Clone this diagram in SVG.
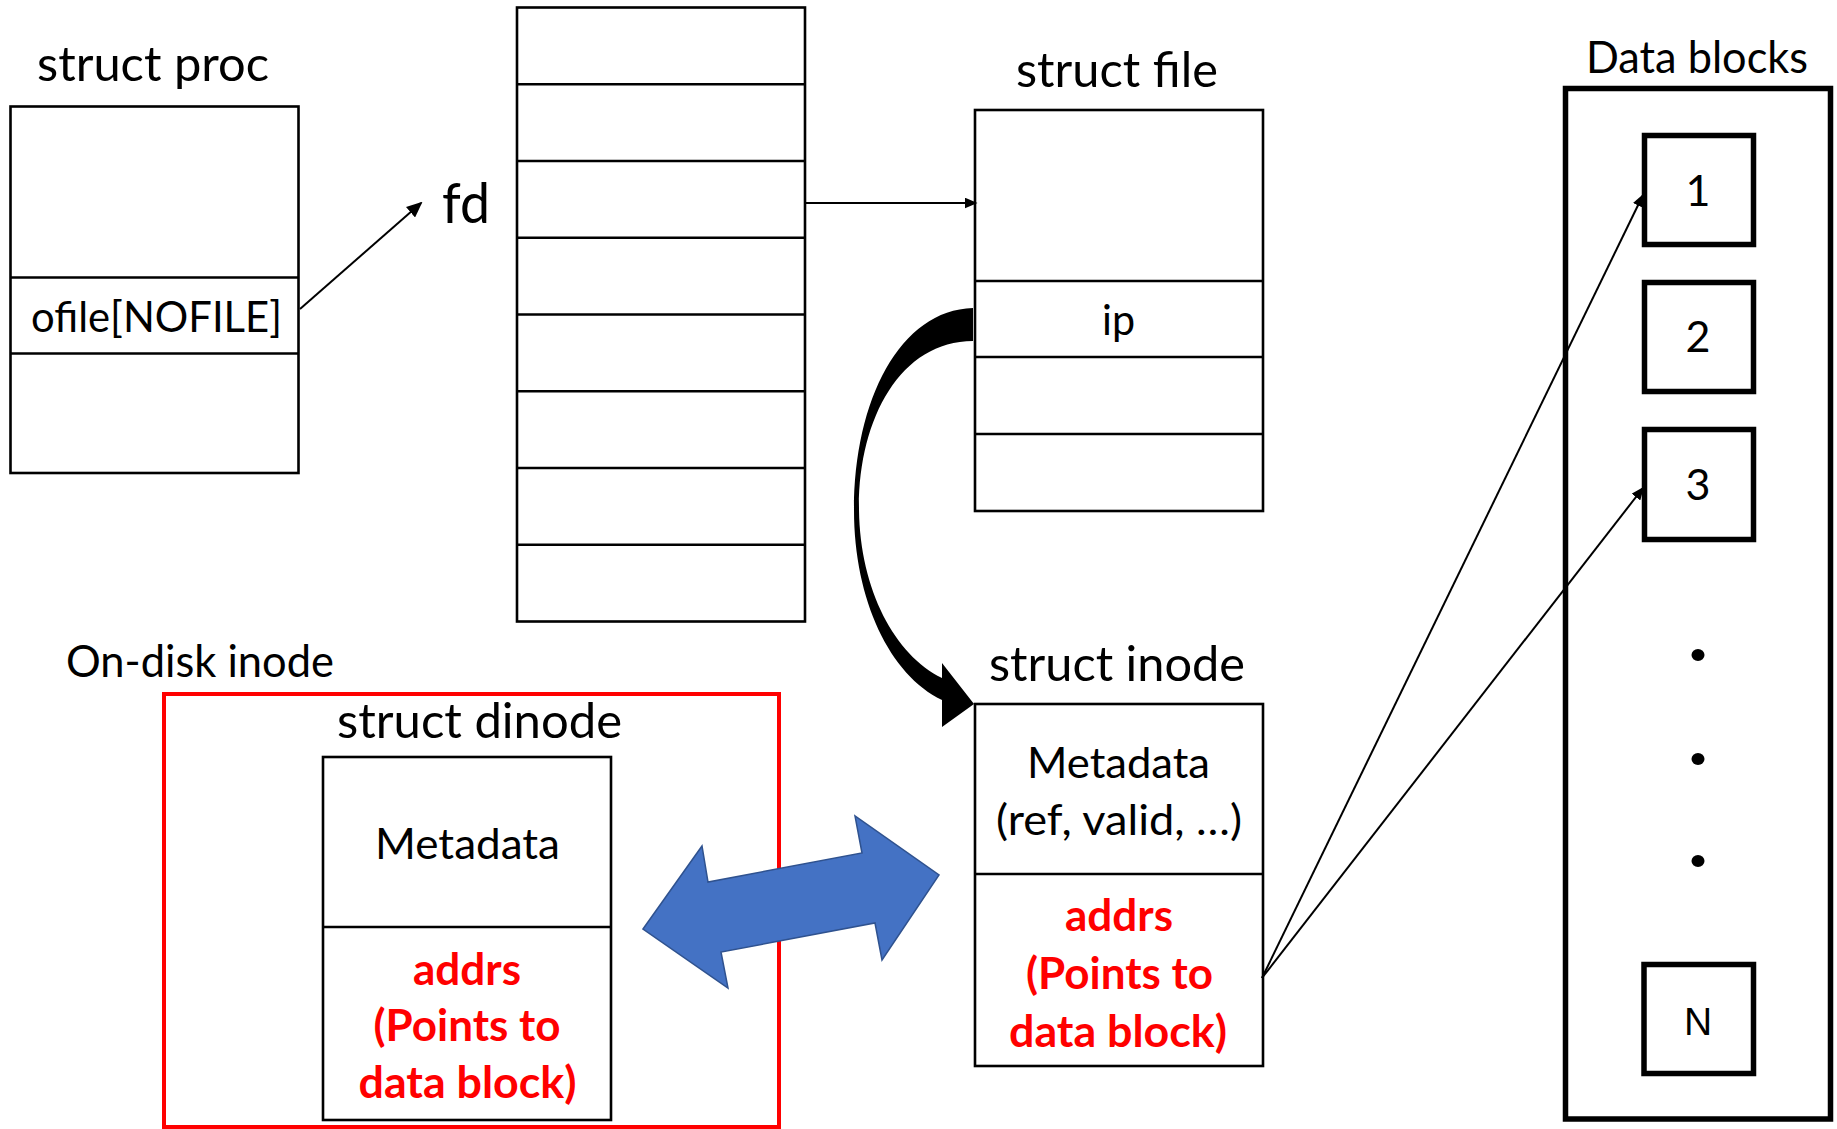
<svg xmlns="http://www.w3.org/2000/svg" width="1837" height="1129" viewBox="0 0 1837 1129">
  <style>
    .box{fill:#fff;stroke:#000;stroke-width:2.6}
    .rule{stroke:#000;stroke-width:2.6}
    .t{font-family:Lato,"Liberation Sans",sans-serif;fill:#000;text-anchor:middle}
    .title{font-size:48px}
    .body{font-size:43px}
    .label{font-size:44px}
    .red{fill:#f00;font-weight:bold;font-size:43px}
    .blk{fill:#fff;stroke:#000;stroke-width:5.5}
    .num{font-size:43px}
    .conn{stroke:#000;stroke-width:2;fill:none}
  </style>
  <defs>
    <marker id="head" markerUnits="userSpaceOnUse" viewBox="0 0 16 14" markerWidth="16" markerHeight="14" refX="14" refY="7" orient="auto">
      <path d="M0,0 L16,7 L0,14 Z" fill="#000"/>
    </marker>
    <marker id="headSmall" markerUnits="userSpaceOnUse" viewBox="0 0 13 11" markerWidth="13" markerHeight="11" refX="11.5" refY="5.5" orient="auto">
      <path d="M0,0 L13,5.5 L0,11 Z" fill="#000"/>
    </marker>
  </defs>
  <rect width="1837" height="1129" fill="#fff"/>

  <!-- process structure with its open-file array -->
  <g id="proc">
    <text class="t title" x="153" y="81" textLength="232" lengthAdjust="spacingAndGlyphs">struct proc</text>
    <rect class="box" x="10.5" y="106.5" width="288" height="366.5"/>
    <line class="rule" x1="10.5" y1="277.5" x2="298.5" y2="277.5"/>
    <line class="rule" x1="10.5" y1="353.5" x2="298.5" y2="353.5"/>
    <text class="t body" x="156.5" y="332" textLength="251" lengthAdjust="spacingAndGlyphs">ofile[NOFILE]</text>
  </g>

  <!-- file descriptor table -->
  <g id="fd-table">
    <text class="t" x="466" y="223" font-size="56" textLength="48" lengthAdjust="spacingAndGlyphs">fd</text>
    <rect class="box" x="517" y="7.5" width="288" height="614"/>
    <line class="rule" x1="517" y1="84.3" x2="805" y2="84.3"/>
    <line class="rule" x1="517" y1="161" x2="805" y2="161"/>
    <line class="rule" x1="517" y1="237.8" x2="805" y2="237.8"/>
    <line class="rule" x1="517" y1="314.5" x2="805" y2="314.5"/>
    <line class="rule" x1="517" y1="391.3" x2="805" y2="391.3"/>
    <line class="rule" x1="517" y1="468" x2="805" y2="468"/>
    <line class="rule" x1="517" y1="544.8" x2="805" y2="544.8"/>
  </g>

  <!-- open file structure -->
  <g id="file">
    <text class="t title" x="1117" y="87" textLength="202" lengthAdjust="spacingAndGlyphs">struct file</text>
    <rect class="box" x="975" y="110" width="288" height="401"/>
    <line class="rule" x1="975" y1="281" x2="1263" y2="281"/>
    <line class="rule" x1="975" y1="357" x2="1263" y2="357"/>
    <line class="rule" x1="975" y1="434" x2="1263" y2="434"/>
    <text class="t body" x="1118.5" y="335" textLength="33" lengthAdjust="spacingAndGlyphs">ip</text>
  </g>

  <!-- in-memory inode -->
  <g id="inode">
    <text class="t title" x="1117" y="681" textLength="256" lengthAdjust="spacingAndGlyphs">struct inode</text>
    <rect class="box" x="975" y="704" width="288" height="362"/>
    <line class="rule" x1="975" y1="874" x2="1263" y2="874"/>
    <text class="t body" x="1118.5" y="778" textLength="183" lengthAdjust="spacingAndGlyphs">Metadata</text>
    <text class="t body" x="1119" y="835" textLength="246" lengthAdjust="spacingAndGlyphs">(ref, valid, …)</text>
    <text class="t red" x="1119" y="931" textLength="108" lengthAdjust="spacingAndGlyphs">addrs</text>
    <text class="t red" x="1119.5" y="989" textLength="187" lengthAdjust="spacingAndGlyphs">(Points to</text>
    <text class="t red" x="1118" y="1047" textLength="218" lengthAdjust="spacingAndGlyphs">data block)</text>
  </g>

  <!-- on-disk inode -->
  <g id="dinode">
    <text class="t label" x="200" y="677" textLength="268" lengthAdjust="spacingAndGlyphs">On-disk inode</text>
    <rect x="164" y="694" width="615" height="433" fill="none" stroke="#f00" stroke-width="4"/>
    <text class="t title" x="479.5" y="738" textLength="285" lengthAdjust="spacingAndGlyphs">struct dinode</text>
    <rect class="box" x="323" y="757" width="288" height="363"/>
    <line class="rule" x1="323" y1="927" x2="611" y2="927"/>
    <text class="t body" x="467.5" y="859" textLength="185" lengthAdjust="spacingAndGlyphs">Metadata</text>
    <text class="t red" x="467" y="985" textLength="108" lengthAdjust="spacingAndGlyphs">addrs</text>
    <text class="t red" x="467" y="1041" textLength="187" lengthAdjust="spacingAndGlyphs">(Points to</text>
    <text class="t red" x="467.5" y="1098" textLength="218" lengthAdjust="spacingAndGlyphs">data block)</text>
  </g>

  <!-- data block area -->
  <g id="data-blocks">
    <text class="t label" x="1697" y="73" textLength="222" lengthAdjust="spacingAndGlyphs">Data blocks</text>
    <rect x="1565.5" y="88.5" width="265" height="1030.5" fill="none" stroke="#000" stroke-width="5.5"/>
    <rect class="blk" x="1644.5" y="135.5" width="109" height="109"/>
    <rect class="blk" x="1644.5" y="282.5" width="109" height="109"/>
    <rect class="blk" x="1644.5" y="429.5" width="109" height="110"/>
    <rect class="blk" x="1644" y="964.5" width="109.5" height="109"/>
    <text class="t num" x="1698" y="206">1</text>
    <text class="t num" x="1698" y="352">2</text>
    <text class="t num" x="1698" y="500">3</text>
    <text x="1698" y="1035" font-family="'Liberation Sans',Arial,sans-serif" font-size="39" text-anchor="middle">N</text>
    <ellipse cx="1698" cy="655" rx="6.5" ry="6"/>
    <ellipse cx="1698" cy="759" rx="6.5" ry="6"/>
    <ellipse cx="1698" cy="861" rx="6.5" ry="6"/>
  </g>

  <!-- connectors -->
  <g id="connectors">
    <line class="conn" x1="300" y1="309" x2="421" y2="203" marker-end="url(#head)"/>
    <line class="conn" x1="805" y1="203" x2="976" y2="203" marker-end="url(#headSmall)"/>
    <path d="M973,308 C900,310 854,400 854,510 C854,600 890,675 942,700 L942,727 L974,704 L942,663 L942,678 C895,655 860,590 859,510 C858,420 900,341 973,341 Z" fill="#000"/>
    <path d="M643,929 L702,846 L708,882 L862,853 L855,816 L939,875 L882,960 L875,923 L721,952 L728,988 Z" fill="#4472C4" stroke="#2F528F" stroke-width="1.5" stroke-linejoin="miter"/>
    <line class="conn" x1="1262" y1="978" x2="1643" y2="195" marker-end="url(#headSmall)"/>
    <line class="conn" x1="1262" y1="978" x2="1643" y2="488" marker-end="url(#headSmall)"/>
  </g>
</svg>
